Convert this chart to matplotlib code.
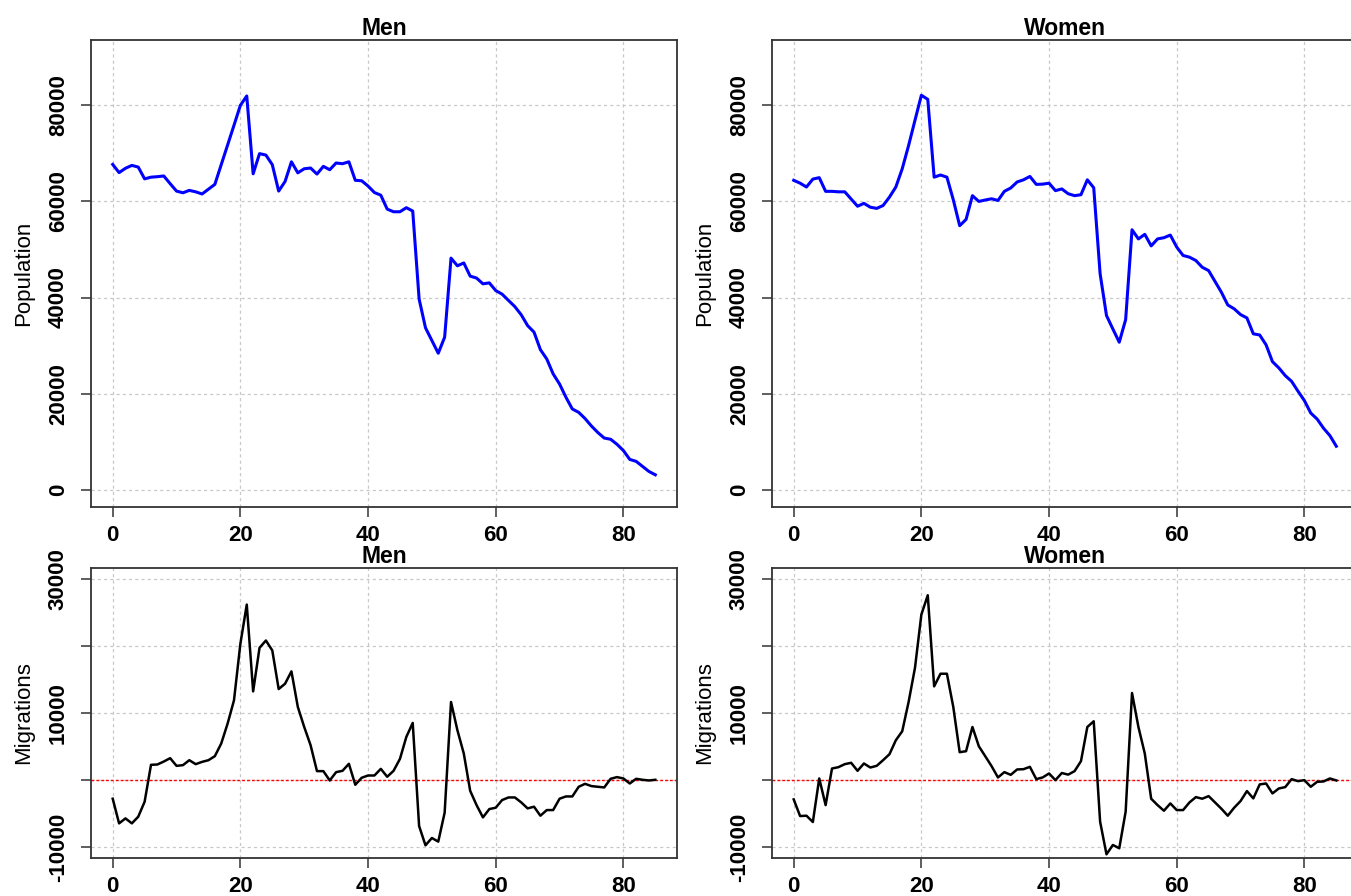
import numpy as np
import matplotlib
matplotlib.use("Agg")
import matplotlib.pyplot as plt

# population and net migrations by single year of age, 0..85
ages = np.arange(0, 86)

men_pop = [67700, 66000, 66900, 67500, 67150, 64700, 65050, 65150, 65300, 63700,
           62150, 61800, 62300, 62000, 61550, 62550, 63550, 67650, 71750, 75850,
           80000, 81950, 65750, 69950, 69650, 67650, 62150, 64150, 68250, 65950,
           66800, 66950, 65700, 67300, 66600, 68000, 67850, 68250, 64400, 64300,
           63200, 61850, 61300, 58400, 57850, 57850, 58700, 58000, 39700, 33700,
           31050, 28400, 31750, 48200, 46600, 47200, 44450, 44050, 42850, 43050,
           41450, 40700, 39400, 38100, 36400, 34150, 32800, 29150, 27200, 24100,
           22000, 19250, 16800, 16100, 14800, 13250, 11900, 10750, 10500, 9450,
           8150, 6300, 5900, 4850, 3800, 3100]

women_pop = [64400, 63800, 63000, 64650, 64950, 62100, 62100, 62000, 62000, 60500,
             59000, 59600, 58800, 58550, 59150, 60900, 63000, 66800, 71650, 76900,
             82100, 81250, 65050, 65500, 65050, 60350, 54950, 56250, 61200, 60000,
             60300, 60550, 60200, 62100, 62800, 64050, 64500, 65200, 63550, 63600,
             63800, 62250, 62600, 61600, 61200, 61400, 64500, 62850, 44950, 36250,
             33450, 30700, 35400, 54100, 52200, 53150, 50750, 52200, 52450, 53000,
             50500, 48750, 48400, 47700, 46300, 45600, 43350, 41100, 38450, 37650,
             36450, 35750, 32450, 32200, 30150, 26650, 25350, 23750, 22550, 20500,
             18550, 15950, 14700, 12800, 11250, 9050]

men_mig = [-2770, -6440, -5700, -6440, -5450, -3220, 2280, 2330, 2770, 3270,
           2130, 2230, 2970, 2380, 2720, 2970, 3570, 5450, 8420, 11890,
           20310, 26150, 13220, 19710, 20800, 19320, 13570, 14360, 16200, 10900,
           7920, 5200, 1340, 1340, -50, 1190, 1390, 2430, -690, 350,
           690, 690, 1680, 500, 1390, 3170, 6440, 8520, -6840, -9710,
           -8620, -9160, -4850, 11640, 7430, 3960, -1590, -3720, -5550, -4310,
           -4110, -2970, -2580, -2580, -3320, -4210, -3960, -5300, -4460, -4460,
           -2770, -2430, -2430, -990, -550, -890, -990, -1090, 200, 450,
           250, -500, 200, 50, -50, 50]

women_mig = [-2870, -5350, -5300, -6240, 250, -3720, 1730, 1930, 2380, 2580,
             1390, 2480, 1880, 2130, 2970, 3860, 5940, 7280, 11640, 16740,
             24670, 27540, 13970, 15850, 15850, 10900, 4160, 4310, 7920, 5050,
             3570, 2080, 400, 1190, 790, 1590, 1630, 1980, 150, 400,
             990, 0, 1060, 820, 1340, 2820, 7920, 8770, -6190, -11050,
             -9660, -10150, -4700, 12980, 7920, 3960, -2770, -3720, -4560, -3470,
             -4460, -4460, -3320, -2530, -2770, -2380, -3320, -4260, -5300, -4110,
             -3120, -1630, -2720, -640, -500, -1980, -1240, -1040, 150, -150,
             0, -990, -250, -200, 250, -50]

x_ticks = [0, 20, 40, 60, 80]
pop_ticks = [0, 20000, 40000, 60000, 80000]
mig_ticks = [-10000, 0, 10000, 20000, 30000]
mig_labels = ["-10000", "", "10000", "", "30000"]

plt.rcParams['font.family'] = ['Liberation Sans', 'DejaVu Sans']

W, H = 1351, 896
fig = plt.figure(figsize=(W / 100, H / 100), dpi=100, facecolor='w')


def panel(left, top, right, bottom):
    # axes placed in pixel coordinates
    return fig.add_axes([left / W, 1 - bottom / H, (right - left) / W, (bottom - top) / H])


def base_style(ax, title, ylabel, yticks, ylabels, ylim):
    ax.set_xlim(-3.4, 88.4)
    ax.set_ylim(*ylim)
    ax.set_xticks(x_ticks)
    ax.set_xticklabels([str(t) for t in x_ticks], fontsize=16, fontweight='bold')
    ax.set_yticks(yticks)
    ax.set_yticklabels(ylabels, fontsize=16, fontweight='bold', rotation=90, va='center')
    ax.tick_params(direction='out', length=7, width=1.1, color='#333333', pad=6)
    ax.tick_params(axis='y', pad=9)
    ax.grid(True, color='#c8c8c8', lw=0.9, ls=(0, (2.5, 2.5)))
    ax.set_axisbelow(True)
    for s in ax.spines.values():
        s.set_color('#333333')
        s.set_linewidth(1.3)
    ax.set_title(title, fontsize=16.5, fontweight='bold', pad=2)
    ax.set_ylabel(ylabel, fontsize=16, labelpad=10)


top_boxes = [(91, 40, 677, 507), (772, 40, 1358, 507)]
bot_boxes = [(91, 568, 677, 858), (772, 568, 1358, 858)]
titles = ["Men", "Women"]

axes = []
for box, title, pop in zip(top_boxes, titles, [men_pop, women_pop]):
    ax = panel(*box)
    ax.plot(ages, pop, color='#0000ff', lw=2.2, solid_joinstyle='round')
    base_style(ax, title, "Population", pop_ticks, [str(t) for t in pop_ticks], (-3600, 93600))
    axes.append(ax)

for box, title, mig in zip(bot_boxes, titles, [men_mig, women_mig]):
    ax = panel(*box)
    ax.axhline(0, color='red', lw=1.0, ls=(0, (2, 1.5)))
    ax.plot(ages, mig, color='black', lw=1.8, solid_joinstyle='round')
    base_style(ax, title, "Migrations", mig_ticks, mig_labels, (-11600, 31600))
    axes.append(ax)

# the women panels run off the right edge of the page
axes[1].spines['right'].set_visible(False)
axes[3].spines['right'].set_visible(False)

fig.savefig("out.png", dpi=100)
